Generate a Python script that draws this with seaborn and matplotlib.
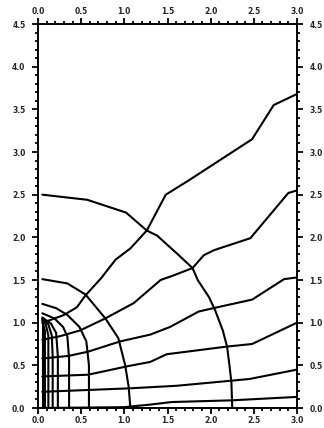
import matplotlib
matplotlib.use("Agg")
import matplotlib.pyplot as plt
from matplotlib.ticker import MultipleLocator, FormatStrFormatter
import seaborn as sns
import pandas as pd

# ---- data: equipotential-like arcs (x, y) ----
arc_a_x = [0.05, 0.57, 1.02, 1.26, 1.38, 1.61, 1.79, 1.85, 1.98, 2.05, 2.14, 2.19, 2.22, 2.24, 2.25]
arc_a_y = [2.50, 2.44, 2.29, 2.08, 2.02, 1.81, 1.64, 1.50, 1.30, 1.15, 0.91, 0.72, 0.48, 0.30, 0.00]
arc_b_x = [0.05, 0.34, 0.55, 0.78, 0.93, 1.01, 1.05, 1.07]
arc_b_y = [1.51, 1.46, 1.33, 1.05, 0.82, 0.50, 0.25, 0.00]
arc_c_x = [0.05, 0.21, 0.34, 0.48, 0.56, 0.59, 0.59]
arc_c_y = [1.22, 1.17, 1.09, 0.95, 0.78, 0.50, 0.00]
arc_d_x = [0.05, 0.19, 0.29, 0.34, 0.36, 0.36]
arc_d_y = [1.11, 1.05, 0.95, 0.84, 0.58, 0.00]
arc_e_x = [0.05, 0.15, 0.21, 0.23, 0.23]
arc_e_y = [1.06, 0.99, 0.88, 0.60, 0.00]
arc_f_x = [0.05, 0.12, 0.16, 0.17, 0.17]
arc_f_y = [1.05, 0.98, 0.85, 0.60, 0.00]
arc_g_x = [0.05, 0.09, 0.12, 0.12]
arc_g_y = [1.04, 0.98, 0.85, 0.00]
arc_h_x = [0.05, 0.08, 0.08]
arc_h_y = [1.03, 0.90, 0.00]
arc_i_x = [0.055, 0.055]
arc_i_y = [1.02, 0.00]

# ---- data: field-like lines (x, y) ----
line_0_x = [0.05, 1.00, 1.30, 1.55, 2.25, 3.00]
line_0_y = [0.00, 0.01, 0.04, 0.07, 0.09, 0.13]
line_1_x = [0.05, 1.05, 1.60, 2.24, 2.45, 3.00]
line_1_y = [0.19, 0.23, 0.26, 0.32, 0.34, 0.45]
line_2_x = [0.05, 0.58, 1.04, 1.30, 1.49, 2.19, 2.48, 3.00]
line_2_y = [0.37, 0.39, 0.49, 0.54, 0.63, 0.72, 0.75, 1.00]
line_3_x = [0.05, 0.35, 0.58, 0.95, 1.30, 1.53, 1.86, 2.03, 2.48, 2.85, 3.00]
line_3_y = [0.58, 0.61, 0.66, 0.78, 0.86, 0.95, 1.13, 1.17, 1.27, 1.51, 1.53]
line_4_x = [0.05, 0.25, 0.49, 0.78, 1.11, 1.42, 1.56, 1.79, 1.92, 2.04, 2.46, 2.90, 3.00]
line_4_y = [0.80, 0.84, 0.91, 1.05, 1.23, 1.50, 1.55, 1.64, 1.79, 1.85, 1.99, 2.52, 2.55]
line_5_x = [0.05, 0.14, 0.30, 0.45, 0.55, 0.73, 0.90, 1.07, 1.26, 1.48, 1.75, 2.48, 2.73, 3.00]
line_5_y = [1.00, 1.03, 1.09, 1.18, 1.32, 1.52, 1.74, 1.87, 2.08, 2.50, 2.67, 3.15, 3.55, 3.68]

curves = {
    "arc_a": (arc_a_x, arc_a_y), "arc_b": (arc_b_x, arc_b_y), "arc_c": (arc_c_x, arc_c_y),
    "arc_d": (arc_d_x, arc_d_y), "arc_e": (arc_e_x, arc_e_y), "arc_f": (arc_f_x, arc_f_y),
    "arc_g": (arc_g_x, arc_g_y), "arc_h": (arc_h_x, arc_h_y), "arc_i": (arc_i_x, arc_i_y),
    "line_0": (line_0_x, line_0_y), "line_1": (line_1_x, line_1_y), "line_2": (line_2_x, line_2_y),
    "line_3": (line_3_x, line_3_y), "line_4": (line_4_x, line_4_y), "line_5": (line_5_x, line_5_y),
}

rows = []
for name, (xs, ys) in curves.items():
    for i, (x, y) in enumerate(zip(xs, ys)):
        rows.append({"curve": name, "order": i, "x": x, "y": y})
df = pd.DataFrame(rows)

x_ticks = [0.0, 0.5, 1.0, 1.5, 2.0, 2.5, 3.0]
y_ticks = [0.0, 0.5, 1.0, 1.5, 2.0, 2.5, 3.0, 3.5, 4.0, 4.5]

sns.set_style("ticks")
plt.rcParams["font.family"] = ["DejaVu Sans"]

fig = plt.figure(figsize=(3.24, 4.28), dpi=100)
ax = fig.add_axes([38 / 324, 20 / 428, 259 / 324, 384 / 428])

sns.lineplot(data=df, x="x", y="y", units="curve", estimator=None, sort=False,
             color="black", linewidth=1.5, ax=ax, legend=False)

ax.set_xlim(0, 3.0)
ax.set_ylim(0, 4.5)
ax.set_xticks(x_ticks)
ax.set_yticks(y_ticks)
ax.xaxis.set_minor_locator(MultipleLocator(0.1))
ax.yaxis.set_minor_locator(MultipleLocator(0.1))
ax.xaxis.set_major_formatter(FormatStrFormatter("%.1f"))
ax.yaxis.set_major_formatter(FormatStrFormatter("%.1f"))
ax.set_xlabel("")
ax.set_ylabel("")

ax.tick_params(which="both", direction="out", top=True, right=True, bottom=True, left=True,
               labeltop=True, labelright=True, labelbottom=True, labelleft=True,
               width=1.3, color="black")
ax.tick_params(which="major", length=4.0, labelsize=5.5)
ax.tick_params(which="minor", length=2.5)
ax.tick_params(axis="y", which="major", pad=5)
ax.tick_params(axis="x", which="major", pad=2)

for t in ax.xaxis.get_major_ticks() + ax.yaxis.get_major_ticks():
    t.label1.set_fontweight("bold")
    t.label2.set_fontweight("bold")

for s in ax.spines.values():
    s.set_linewidth(1.4)
    s.set_color("black")

fig.savefig("out.png", dpi=100)
